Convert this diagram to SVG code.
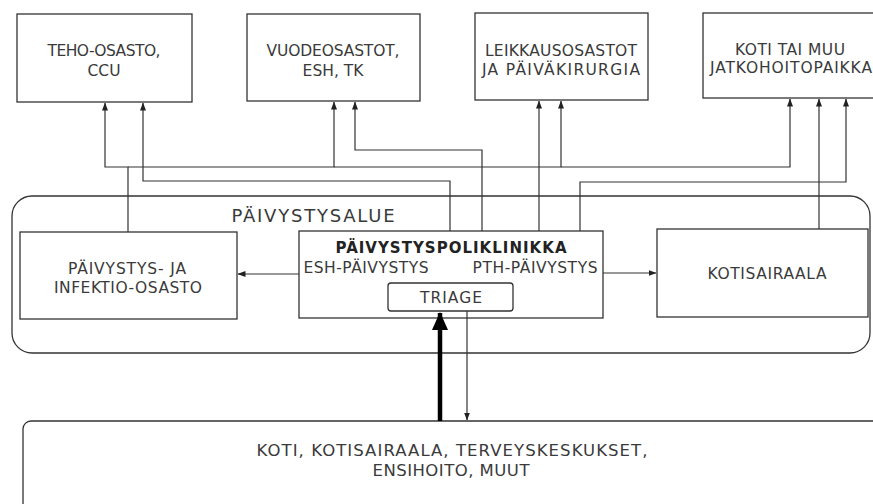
<svg xmlns="http://www.w3.org/2000/svg" width="873" height="504" viewBox="0 0 873 504">
<style>
.box{fill:#fff;stroke:#333;stroke-width:1.3}
.t{font-family:"DejaVu Sans","Verdana",sans-serif;font-size:15.5px;fill:#3a3a3a;text-anchor:middle}
.b{font-weight:bold;fill:#222;font-size:15px}
.l{font-size:16.5px}
.c{fill:none;stroke:#333;stroke-width:1.2}
</style>
<defs>
<marker id="ah" markerWidth="8" markerHeight="8" viewBox="0 0 8 8" refX="7.5" refY="4" orient="auto" markerUnits="userSpaceOnUse">
<path d="M0,1 L8,4 L0,7 Z" fill="#222"/>
</marker>
<marker id="bh" markerWidth="18" markerHeight="18" viewBox="0 0 18 18" refX="17" refY="9" orient="auto" markerUnits="userSpaceOnUse">
<path d="M0,1 L18,9 L0,17 Z" fill="#000"/>
</marker>
</defs>
<rect width="873" height="504" fill="#fff"/>

<g id="paivystysalue">
<rect x="12" y="196" width="858" height="157" rx="20" class="box" fill="none"/>
<text class="t" x="313" y="222" textLength="163" style="font-size:18px">PÄIVYSTYSALUE</text>
</g>

<g id="teho">
<rect class="box" x="17" y="14" width="175" height="88"/>
<text class="t" x="104" y="56" textLength="113">TEHO-OSASTO,</text>
<text class="t" x="104" y="76">CCU</text>
</g>
<g id="vuode">
<rect class="box" x="247" y="14" width="173" height="87"/>
<text class="t" x="333" y="56" textLength="133">VUODEOSASTOT,</text>
<text class="t" x="333" y="76">ESH, TK</text>
</g>
<g id="leikkaus">
<rect class="box" x="475" y="13" width="173" height="87"/>
<text class="t" x="561" y="56" textLength="152">LEIKKAUSOSASTOT</text>
<text class="t" x="561" y="75" textLength="158">JA PÄIVÄKIRURGIA</text>
</g>
<g id="koti">
<rect class="box" x="703" y="13" width="180" height="85"/>
<text class="t" x="790" y="55" textLength="110">KOTI TAI MUU</text>
<text class="t" x="791" y="73" textLength="162">JATKOHOITOPAIKKA</text>
</g>

<g id="infektio">
<rect class="box" x="20" y="232" width="217" height="87"/>
<text class="t" x="127" y="274" textLength="118">PÄIVYSTYS- JA</text>
<text class="t" x="128" y="293" textLength="148">INFEKTIO-OSASTO</text>
</g>
<g id="poliklinikka">
<rect class="box" x="299" y="231" width="304" height="87"/>
<text class="t b" x="451" y="253" textLength="231">PÄIVYSTYSPOLIKLINIKKA</text>
<text class="t" x="366" y="273" textLength="125">ESH-PÄIVYSTYS</text>
<text class="t" x="535" y="273" textLength="125">PTH-PÄIVYSTYS</text>
</g>
<g id="triage">
<rect class="box" x="388" y="283" width="125" height="28" rx="3"/>
<text class="t" x="451" y="303" textLength="62">TRIAGE</text>
</g>
<g id="kotisairaala">
<rect class="box" x="657" y="229" width="211" height="88"/>
<text class="t" x="767" y="279" textLength="119">KOTISAIRAALA</text>
</g>
<g id="lahde">
<rect class="box" x="23" y="421" width="870" height="95" rx="8"/>
<text class="t l" x="452" y="456" textLength="391">KOTI, KOTISAIRAALA, TERVEYSKESKUKSET,</text>
<text class="t l" x="451" y="476" textLength="157">ENSIHOITO, MUUT</text>
</g>

<g id="connectors">
<path class="c" d="M128,232 V167 H105 V103" marker-end="url(#ah)"/>
<path class="c" d="M128,167 H334 V102" marker-end="url(#ah)"/>
<path class="c" d="M334,167 H561 V101" marker-end="url(#ah)"/>
<path class="c" d="M561,167 H790 V99" marker-end="url(#ah)"/>
<path class="c" d="M450,231 V181 H143 V103" marker-end="url(#ah)"/>
<path class="c" d="M482,231 V150 H355 V102" marker-end="url(#ah)"/>
<path class="c" d="M539,231 V101" marker-end="url(#ah)"/>
<path class="c" d="M580,231 V182 H846 V99" marker-end="url(#ah)"/>
<path class="c" d="M819,229 V99" marker-end="url(#ah)"/>
<path class="c" d="M299,274 H238" marker-end="url(#ah)"/>
<path class="c" d="M603,273 H656" marker-end="url(#ah)"/>
<path class="c" d="M467,311 V420" marker-end="url(#ah)"/>
<path d="M440,421 V313" fill="none" stroke="#000" stroke-width="4.5" marker-end="url(#bh)"/>
</g>
</svg>
